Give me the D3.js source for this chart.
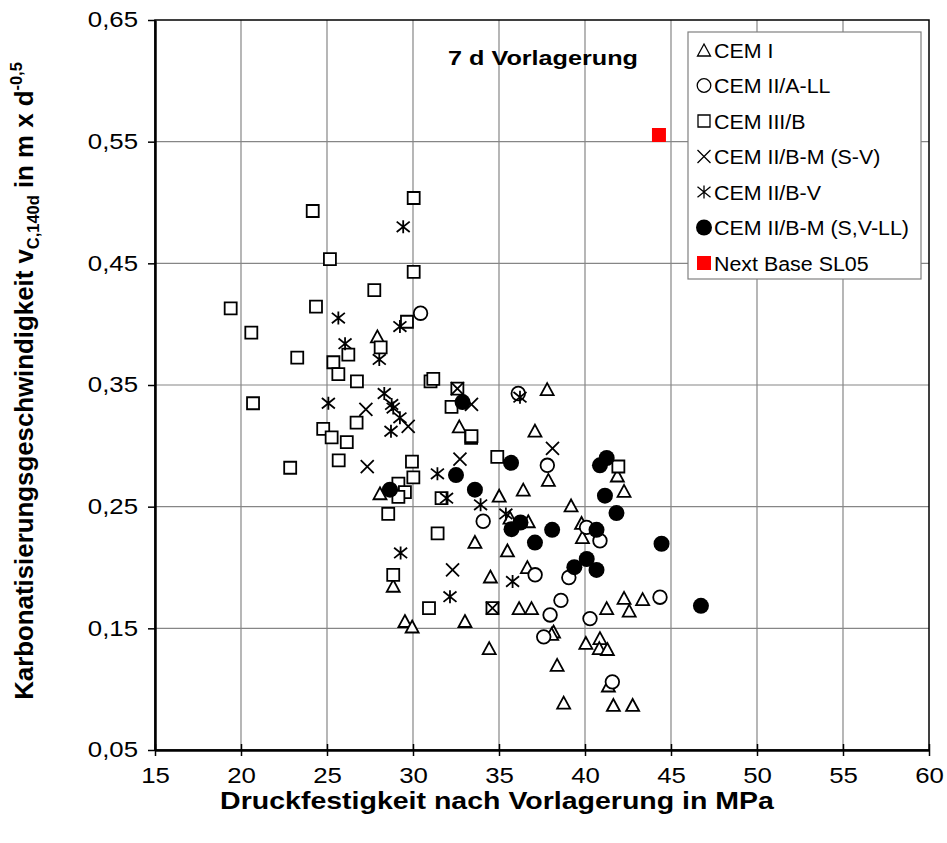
<!DOCTYPE html>
<html><head><meta charset="utf-8">
<script src="https://cdn.jsdelivr.net/npm/d3@7"></script>
<style>body{margin:0;background:#fff}svg{display:block;font-family:"Liberation Sans",Arial,sans-serif}</style>
</head><body><svg id="c" width="947" height="843"></svg>
<script>
const xTicks=[15,20,25,30,35,40,45,50,55,60];
const yTicks=[0.05,0.15,0.25,0.35,0.45,0.55,0.65];
const seriesNames=["CEM I","CEM II/A-LL","CEM III/B","CEM II/B-M (S-V)","CEM II/B-V","CEM II/B-M (S,V-LL)","Next Base SL05"];
const cemI=[[27.93,0.390],[32.69,0.316],[28.08,0.261],[28.85,0.185],[29.53,0.156],[29.95,0.1515],[33.02,0.156],[33.6,0.221],
[37.8,0.3466],[37.09,0.3125],[37.87,0.272],[36.41,0.264],[35.01,0.259],[41.88,0.2756],[42.27,0.263],[39.19,0.251],
[35.64,0.241],[36.7,0.238],[35.49,0.214],[39.8,0.2366],[39.85,0.225],[36.65,0.2003],[34.5,0.1926],[36.17,0.1666],
[36.89,0.1666],[41.26,0.1666],[42.27,0.175],[42.57,0.1646],[43.35,0.174],[38.17,0.1474],[38.06,0.1455],[34.43,0.1337],
[40.05,0.138],[40.87,0.142],[40.83,0.1337],[41.3,0.133],[38.38,0.120],[41.36,0.103],[38.76,0.089],[41.65,0.087],[42.77,0.087]];
const cemIIALL=[[30.44,0.409],[36.12,0.343],[37.81,0.284],[34.08,0.238],[40.09,0.233],[40.87,0.222],[39.06,0.1918],[37.1,0.194],
[38.6,0.173],[37.97,0.161],[40.29,0.158],[37.6,0.143],[41.59,0.106],[44.36,0.1756]];
const cemIIIB=[[24.17,0.493],[30.04,0.5037],[25.17,0.4534],[30.04,0.443],[27.75,0.428],[19.4,0.413],[24.36,0.4144],[29.65,0.402],
[20.6,0.393],[28.12,0.381],[23.27,0.3725],[25.37,0.3687],[25.66,0.359],[26.24,0.375],[26.74,0.353],[31.02,0.353],[31.18,0.355],
[20.7,0.335],[32.58,0.347],[32.24,0.332],[26.72,0.319],[24.78,0.314],[25.27,0.307],[26.15,0.303],[33.38,0.3065],[33.4,0.308],
[29.94,0.287],[25.68,0.288],[22.86,0.282],[30.02,0.274],[29.15,0.269],[29.53,0.262],[29.15,0.258],[31.66,0.257],[28.56,0.244],
[31.43,0.228],[28.85,0.194],[30.93,0.1666],[34.62,0.1666],[34.9,0.291],[41.94,0.283]];
const cemIIBMSV=[[27.26,0.330],[29.72,0.316],[27.34,0.283],[33.4,0.334],[32.73,0.289],[38.11,0.298],[32.3,0.198],[32.58,0.347],[34.62,0.1666]];
const cemIIBV=[[25.66,0.405],[26.05,0.384],[25.08,0.335],[29.43,0.480],[29.24,0.398],[28.04,0.371],[28.33,0.343],[28.76,0.334],
[28.85,0.331],[29.24,0.323],[28.72,0.312],[31.42,0.277],[31.95,0.257],[29.28,0.212],[32.15,0.176],[33.93,0.2515],[35.4,0.244],
[36.22,0.340],[35.79,0.1885]];
const cemIIBMSVLL=[[32.88,0.336],[32.5,0.276],[33.6,0.264],[28.66,0.264],[35.7,0.286],[40.87,0.284],[41.26,0.290],[41.16,0.259],
[41.83,0.2447],[35.73,0.2315],[36.25,0.237],[38.09,0.231],[37.09,0.2205],[40.67,0.231],[40.1,0.207],[39.38,0.2003],[40.67,0.198],
[44.45,0.2195],[46.74,0.1685]];
const nextBase=[[44.3,0.5555]];

const svg=d3.select("#c");
const M={l:155,r:929,t:20,b:750};
const x=d3.scaleLinear().domain([15,60]).range([M.l,M.r]);
const y=d3.scaleLinear().domain([0.05,0.65]).range([M.b,M.t]);
svg.append("rect").attr("width",947).attr("height",843).attr("fill","#fff");

// grid
svg.append("g").selectAll("line").data(xTicks.slice(1,-1)).join("line")
 .attr("x1",d=>x(d)).attr("x2",d=>x(d)).attr("y1",M.t).attr("y2",M.b)
 .attr("stroke","#868686").attr("stroke-width",1.2);
svg.append("g").selectAll("line").data(yTicks.slice(1,-1)).join("line")
 .attr("y1",d=>y(d)).attr("y2",d=>y(d)).attr("x1",M.l).attr("x2",M.r)
 .attr("stroke","#868686").attr("stroke-width",1.2);
svg.append("rect").attr("x",M.l).attr("y",M.t).attr("width",M.r-M.l).attr("height",M.b-M.t)
 .attr("fill","none").attr("stroke","#000").attr("stroke-width",1.5);

const fmt=d=>d3.format(".2f")(d).replace(".",",");
const ay=svg.append("g").attr("transform",`translate(${M.l},0)`)
 .call(d3.axisLeft(y).tickValues(yTicks).tickFormat(fmt).tickSize(7).tickSizeOuter(0));
ay.attr("font-size",null).attr("font-family",null);
ay.select(".domain").attr("stroke-width",2.5);
ay.selectAll(".tick line").attr("stroke-width",1.5);
ay.selectAll(".tick text").attr("x",null).attr("transform","translate(-17,0) scale(1.2,1)")
 .style("font-size","21.5px").attr("fill","#000");

const ax=svg.append("g").attr("transform",`translate(0,${M.b})`)
 .call(d3.axisBottom(x).tickValues(xTicks).tickFormat(d3.format("d")).tickSize(6).tickSizeOuter(0));
ax.attr("font-size",null).attr("font-family",null);
ax.select(".domain").attr("stroke-width",2.5);
ax.selectAll(".tick line").attr("y1",-6).attr("y2",6).attr("stroke-width",1.5);
ax.selectAll(".tick text").attr("y",null).attr("dy",null)
 .attr("transform","translate(0,33) scale(1.2,1)").style("font-size","21.5px").attr("fill","#000");

// marker shapes
function tri(s){const h=s*0.92;return `M0,${-h/2}L${s/2},${h/2}L${-s/2},${h/2}Z`;}
function sq(s){return `M${-s/2},${-s/2}h${s}v${s}h${-s}Z`;}
function xm(s){const a=s/2;return `M${-a},${-a}L${a},${a}M${-a},${a}L${a},${-a}`;}
function ast(s){const a=s/2;return `M${-a},${-a*0.8}L${a},${a*0.8}M${-a},${a*0.8}L${a},${-a*0.8}M0,${-a}L0,${a}`;}

function drawMarker(g,type,sw){
  if(type==="tri") g.append("path").attr("d",tri(13)).attr("fill","#fff").attr("stroke","#000").attr("stroke-width",sw);
  else if(type==="circ") g.append("circle").attr("r",6.8).attr("fill","#fff").attr("stroke","#000").attr("stroke-width",sw);
  else if(type==="sq") g.append("path").attr("d",sq(12)).attr("fill","#fff").attr("stroke","#000").attr("stroke-width",sw);
  else if(type==="x") g.append("path").attr("d",xm(13)).attr("fill","none").attr("stroke","#000").attr("stroke-width",sw);
  else if(type==="ast") g.append("path").attr("d",ast(13)).attr("fill","none").attr("stroke","#000").attr("stroke-width",sw);
  else if(type==="dot") g.append("circle").attr("r",8).attr("fill","#000");
  else if(type==="red") g.append("path").attr("d",sq(14)).attr("fill","#ff0000");
}
const series=[[cemI,"tri"],[cemIIALL,"circ"],[cemIIIB,"sq"],[cemIIBMSV,"x"],[cemIIBV,"ast"],[cemIIBMSVLL,"dot"],[nextBase,"red"]];
series.forEach(([data,type])=>{
  svg.append("g").selectAll("g").data(data).join("g")
   .attr("transform",d=>`translate(${x(d[0])},${y(d[1])})`)
   .each(function(){drawMarker(d3.select(this),type,1.8);});
});

// title
svg.append("text").attr("transform","translate(543,65) scale(1.2,1)").attr("text-anchor","middle")
 .style("font-weight","bold").style("font-size","21px").text("7 d Vorlagerung");

// legend
const lg=svg.append("g");
lg.append("rect").attr("x",688).attr("y",32).attr("width",233).attr("height",247)
 .attr("fill","#fff").attr("stroke","#808080").attr("stroke-width",1.2);
seriesNames.forEach((n,i)=>{
  const cy=50+i*35.5;
  const g=lg.append("g").attr("transform",`translate(704,${cy})`);
  drawMarker(g,series[i][1],1.3);
  lg.append("text").attr("transform",`translate(714,${cy+7.5}) scale(1.07,1)`).style("font-size","20px").text(n);
});

// axis titles
svg.append("text").attr("transform","translate(497,809) scale(1.24,1)").attr("text-anchor","middle")
 .style("font-weight","bold").style("font-size","23px").text("Druckfestigkeit nach Vorlagerung in MPa");
const yt=svg.append("text").attr("text-anchor","middle").style("font-weight","bold").style("font-size","22px");
yt.append("tspan").text("Karbonatisierungsgeschwindigkeit v");
yt.append("tspan").attr("dy",5).style("font-size","14px").text("C,140d");
yt.append("tspan").attr("dy",-5).text(" in m x d");
yt.append("tspan").attr("dy",-9).style("font-size","14px").text("-0,5");
const L=yt.node().getComputedTextLength();
const k=638/L;
yt.attr("transform",`translate(33,381) rotate(-90) scale(${k},1.2)`);
</script></body></html>
